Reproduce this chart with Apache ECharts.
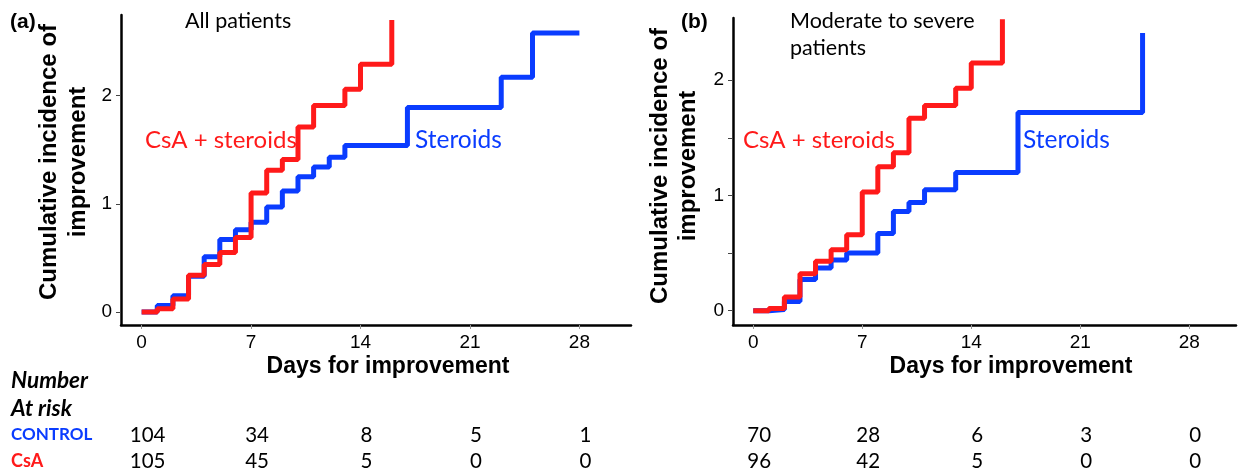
<!DOCTYPE html>
<html><head><meta charset="utf-8">
<script src="https://cdn.jsdelivr.net/npm/echarts@6/dist/echarts.min.js"></script>
<style>html,body{margin:0;padding:0;background:#fff}#c{width:1238px;height:472px}</style>
</head><body><div id="c"></div>
<script>
// ---- data ----
const tickDays = [0, 7, 14, 21, 28];
const yTicks = [0, 1, 2];

// Panel (a) All patients
const aRedDays  = [0, 1, 2, 3, 4, 5, 6, 7, 8, 9, 10, 11, 13, 14, 16];
const aRedVals  = [0, 0.03, 0.12, 0.34, 0.44, 0.55, 0.69, 1.10, 1.31, 1.41, 1.71, 1.91, 2.06, 2.29, 2.70];
const aBlueDays = [0, 1, 2, 3, 4, 5, 6, 7, 8, 9, 10, 11, 12, 13, 17, 23, 25, 28];
const aBlueVals = [0, 0.06, 0.15, 0.33, 0.51, 0.67, 0.76, 0.83, 0.97, 1.12, 1.25, 1.34, 1.43, 1.54, 1.89, 2.17, 2.58, 2.58];

// Panel (b) Moderate to severe patients
const bRedDays  = [0, 1, 2, 3, 4, 5, 6, 7, 8, 9, 10, 11, 13, 14, 16];
const bRedVals  = [0, 0.02, 0.12, 0.32, 0.43, 0.53, 0.66, 1.03, 1.25, 1.37, 1.67, 1.78, 1.93, 2.15, 2.53];
const bBlueDays = [0, 1, 2, 3, 4, 5, 6, 8, 9, 10, 11, 13, 17, 25];
const bBlueVals = [0, 0.01, 0.08, 0.27, 0.37, 0.44, 0.50, 0.67, 0.86, 0.94, 1.05, 1.20, 1.72, 2.41];

// Number at risk
const riskRowLabels = ['CONTROL', 'CsA'];
const aRiskControl = [104, 34, 8, 5, 1];
const aRiskCsA     = [105, 45, 5, 0, 0];
const bRiskControl = [70, 28, 6, 3, 0];
const bRiskCsA     = [96, 42, 5, 0, 0];

// ---- style ----
const RED = '#ff1a1a', BLUE = '#0a3cff';
const NUM_FONT = 'Liberation Sans, Arial, sans-serif';
const TXT_FONT = 'Lato, "Open Sans", sans-serif';

function pairs(d, v) { return d.map((x, i) => [x, v[i]]); }

function xAxisCfg(gi, min, max) {
  return {
    type: 'value', gridIndex: gi, min: min, max: max,
    splitLine: { show: false },
    axisLine: { onZero: false, lineStyle: { color: '#000', width: 2.5 } },
    axisTick: { show: true, customValues: tickDays, length: 4, lineStyle: { color: '#999', width: 1 } },
    axisLabel: { customValues: tickDays, color: '#000', fontSize: 19, fontFamily: NUM_FONT, margin: 8 }
  };
}
function yAxisCfg(gi, min, max, ticks) {
  return {
    type: 'value', gridIndex: gi, min: min, max: max,
    splitLine: { show: false },
    axisLine: { onZero: false, lineStyle: { color: '#000', width: 2.5 } },
    axisTick: { show: true, customValues: ticks, length: 5, lineStyle: { color: '#444', width: 1 } },
    axisLabel: { customValues: yTicks, color: '#000', fontSize: 19, fontFamily: NUM_FONT, margin: 9 }
  };
}
function step(name, gi, data, color) {
  return {
    name: name, type: 'line', xAxisIndex: gi, yAxisIndex: gi, step: 'end',
    data: data, symbol: 'none', animation: false,
    lineStyle: { color: color, width: 5 }
  };
}

const chart = echarts.init(document.getElementById('c'), null, { renderer: 'canvas' });
chart.setOption({
  backgroundColor: '#fff',
  animation: false,
  grid: [
    { left: 121, top: 15, width: 510, height: 310 },
    { left: 733, top: 18, width: 503, height: 307 }
  ],
  xAxis: [xAxisCfg(0, -1.32, 31.3), xAxisCfg(1, -1.30, 31.0)],
  yAxis: [yAxisCfg(0, -0.12, 2.746, [0, 1, 2]), yAxisCfg(1, -0.124, 2.54, [0, 0.5, 1, 1.5, 2])],
  series: [
    step('Steroids', 0, pairs(aBlueDays, aBlueVals), BLUE),
    step('CsA + steroids', 0, pairs(aRedDays, aRedVals), RED),
    step('Steroids', 1, pairs(bBlueDays, bBlueVals), BLUE),
    step('CsA + steroids', 1, pairs(bRedDays, bRedVals), RED)
  ]
});

// ---- texts ----
function txt(x, y, s, opt) {
  return {
    type: 'text', x: x, y: y,
    style: Object.assign({ text: s, fill: '#000', font: '19px ' + TXT_FONT, textAlign: 'left', textVerticalAlign: 'middle' }, opt || {})
  };
}
const g = [];
// panel tags
g.push(txt(10, 22, '(a)', { font: 'bold 21px ' + NUM_FONT }));
g.push(txt(681, 22, '(b)', { font: 'bold 21px ' + NUM_FONT }));
// subtitles
g.push(txt(185, 21, 'All patients', { font: '21.5px ' + TXT_FONT }));
g.push(txt(790, 21, 'Moderate to severe', { font: '21.5px ' + TXT_FONT }));
g.push(txt(790, 48, 'patients', { font: '21.5px ' + TXT_FONT }));
// curve labels
g.push(txt(145, 140, 'CsA + steroids', { fill: RED, font: '24px ' + TXT_FONT }));
g.push(txt(415, 140, 'Steroids', { fill: BLUE, font: '24.5px ' + TXT_FONT }));
g.push(txt(743, 140, 'CsA + steroids', { fill: RED, font: '24px ' + TXT_FONT }));
g.push(txt(1023, 140, 'Steroids', { fill: BLUE, font: '24.5px ' + TXT_FONT }));
// y titles
[[49, 78, 162], [660, 688, 166]].forEach(function (p) {
  g.push({ type: 'text', x: p[0], y: p[2], rotation: Math.PI / 2,
    style: { text: 'Cumulative incidence of', font: 'bold 24px ' + NUM_FONT, fill: '#000', textAlign: 'center', textVerticalAlign: 'middle' } });
  g.push({ type: 'text', x: p[1], y: p[2], rotation: Math.PI / 2,
    style: { text: 'improvement', font: 'bold 24px ' + NUM_FONT, fill: '#000', textAlign: 'center', textVerticalAlign: 'middle' } });
});
// x titles
g.push(txt(388, 367, 'Days for improvement', { font: 'bold 23px ' + NUM_FONT, textAlign: 'center' }));
g.push(txt(1011, 367, 'Days for improvement', { font: 'bold 23px ' + NUM_FONT, textAlign: 'center' }));
// risk table
g.push(txt(11, 381, 'Number', { font: 'italic bold 22.5px ' + TXT_FONT }));
g.push(txt(11, 409, 'At risk', { font: 'italic bold 22.5px ' + TXT_FONT }));
g.push(txt(11, 435, riskRowLabels[0], { fill: BLUE, font: 'bold 17px ' + TXT_FONT }));
g.push(txt(11, 461, riskRowLabels[1], { fill: RED, font: 'bold 18px ' + TXT_FONT }));
function riskRow(gi, vals, y) {
  vals.forEach(function (v, i) {
    const px = chart.convertToPixel({ gridIndex: gi }, [tickDays[i], 0]);
    g.push(txt(px[0] + 6, y, String(v), { font: '20.5px ' + TXT_FONT, textAlign: 'center' }));
  });
}
riskRow(0, aRiskControl, 435);
riskRow(0, aRiskCsA, 461);
riskRow(1, bRiskControl, 435);
riskRow(1, bRiskCsA, 461);

chart.setOption({ graphic: g });
</script>
</body></html>
